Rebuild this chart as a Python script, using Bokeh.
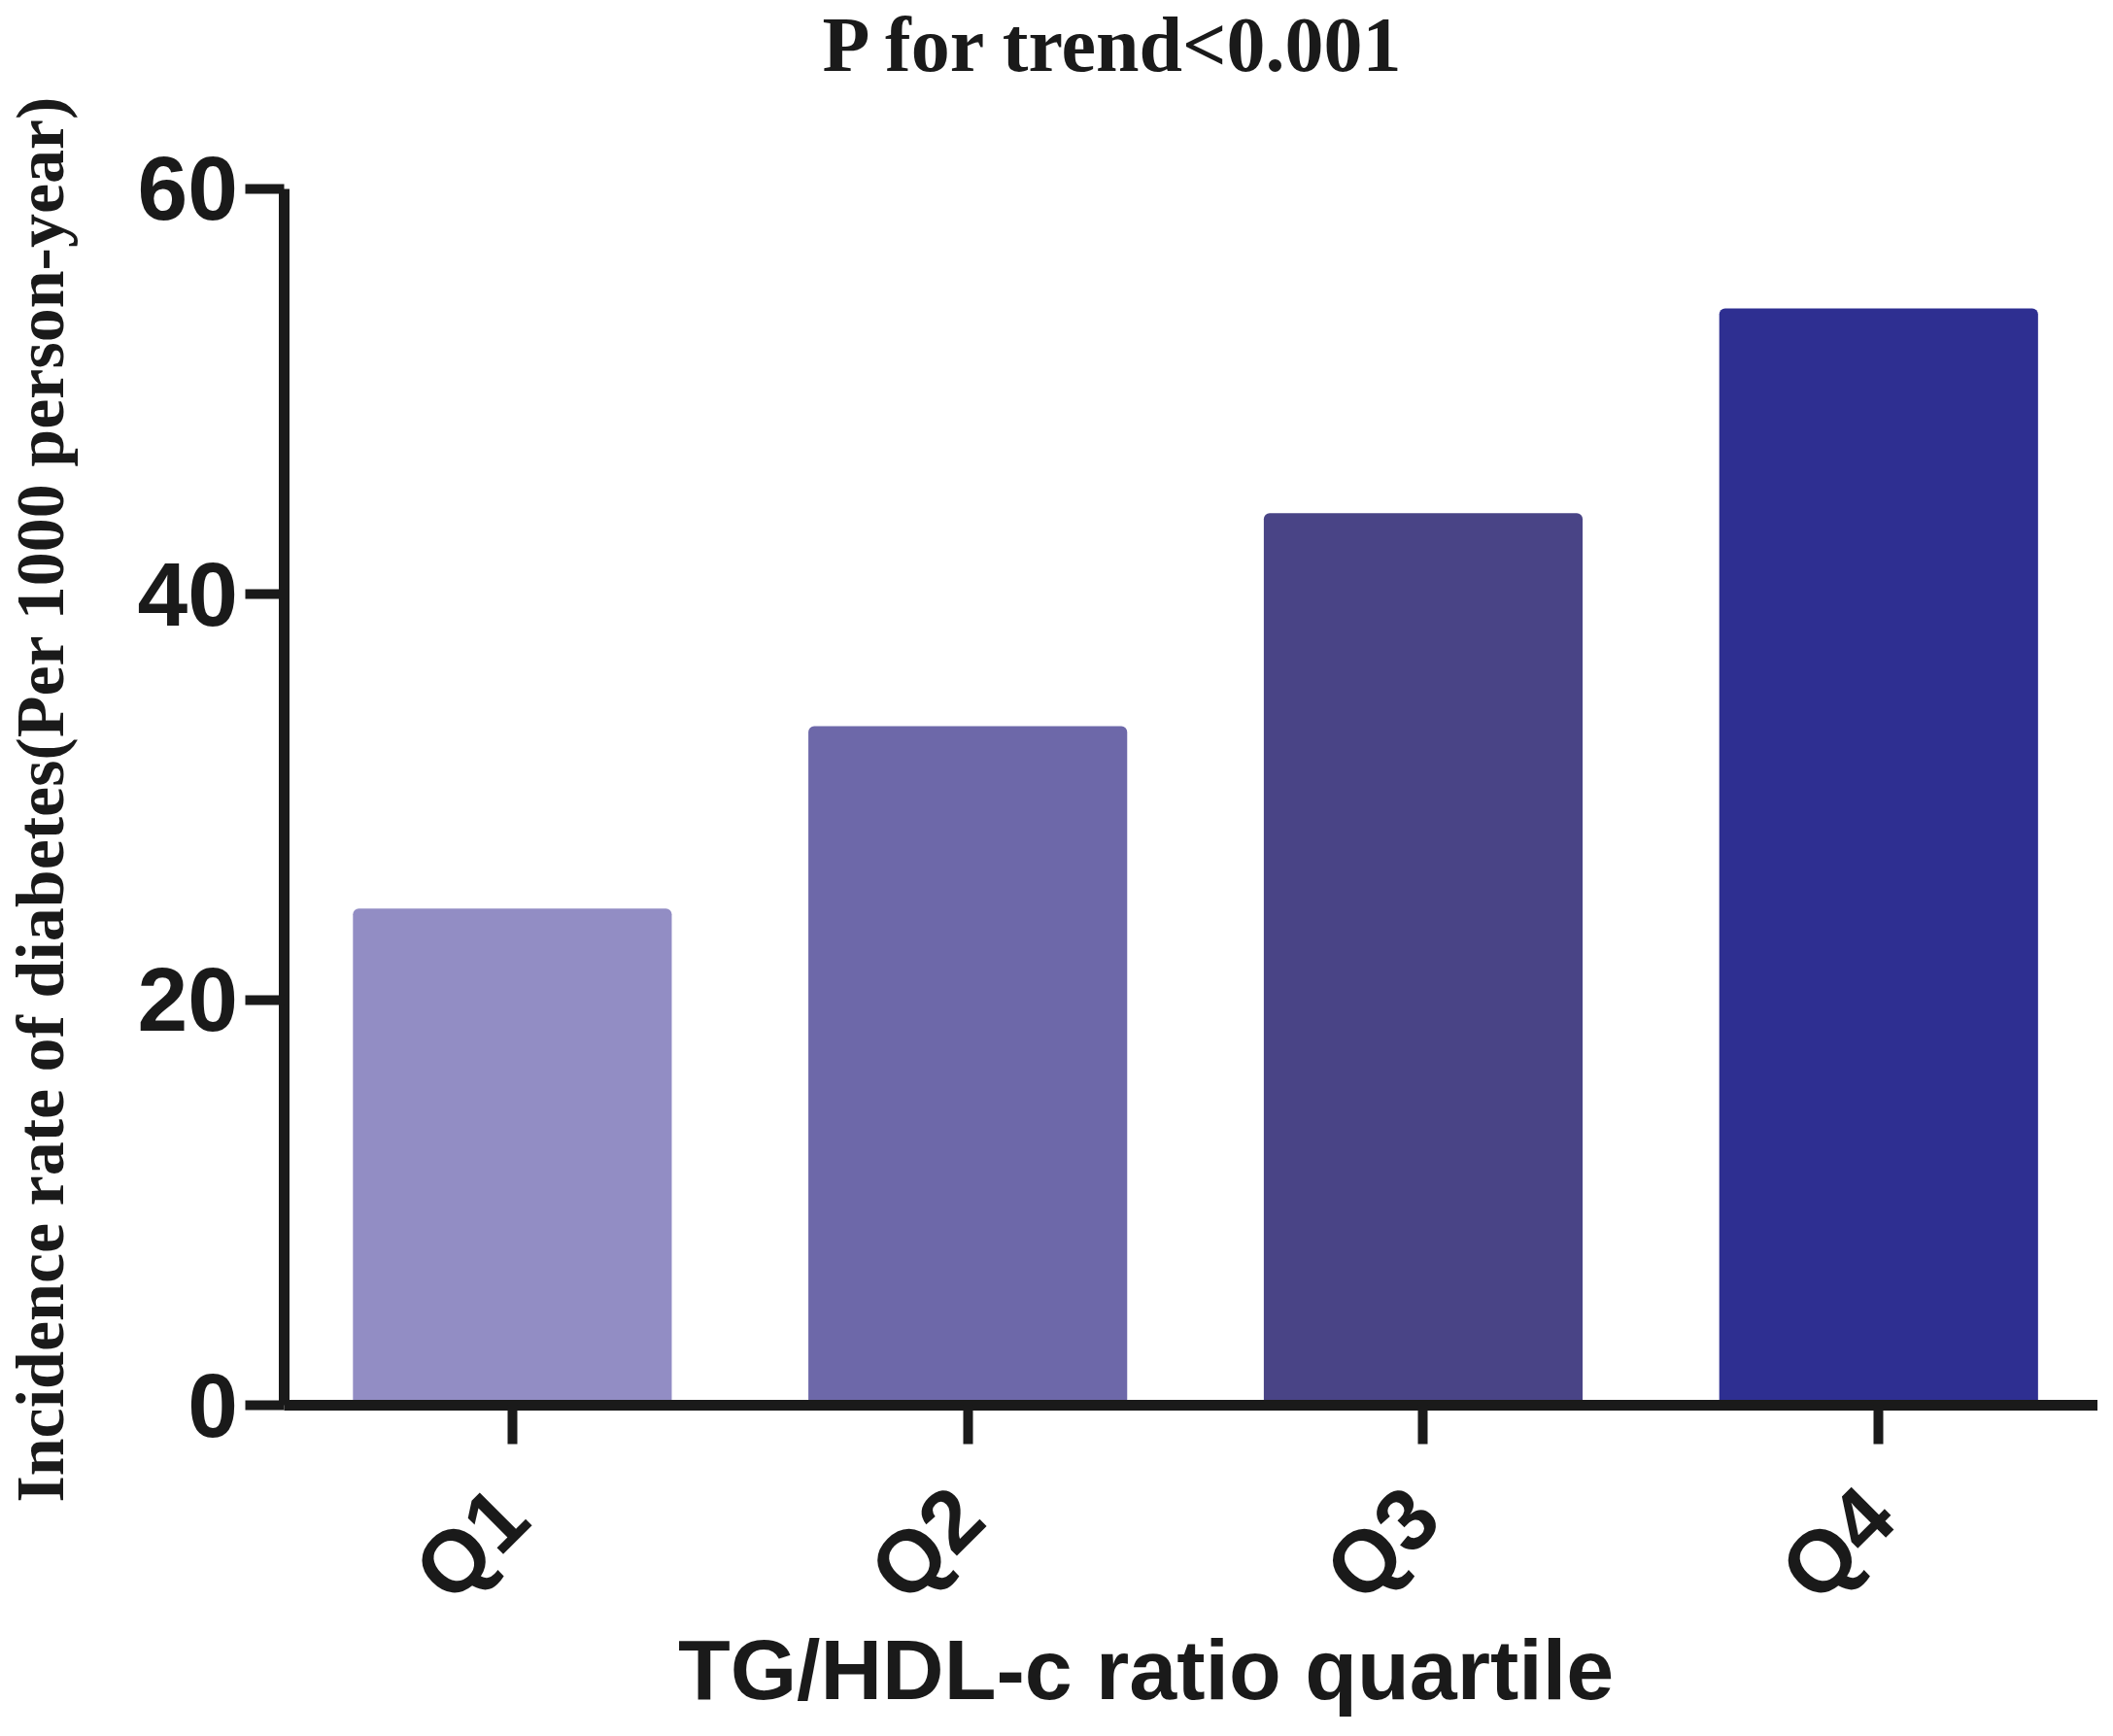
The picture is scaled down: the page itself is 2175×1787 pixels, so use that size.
from math import pi
from bokeh.plotting import figure
from bokeh.models import ColumnDataSource, Range1d, FixedTicker, Label
from bokeh.embed import file_html
from bokeh.resources import INLINE

quartiles = ["Q1", "Q2", "Q3", "Q4"]
incidence = [24.5, 33.5, 44.0, 54.1]
bar_colors = ["#928DC4", "#6D68A9", "#494486", "#2E2F91"]
y_ticks = [0, 20, 40, 60]

title_text = "P for trend<0.001"
x_label = "TG/HDL-c ratio quartile"
y_label = "Incidence rate of diabetes(Per 1000 person-year)"

INK = "#1a1a1a"
W, H = 2159, 1771

# positions of the categories on a numeric axis (centre of each slot)
xpos = [i + 0.5 for i in range(len(quartiles))]

src = ColumnDataSource(dict(x=xpos, v=incidence, c=bar_colors))

p = figure(
    width=W, height=H,
    x_range=Range1d(-0.6239, 3.9815),
    y_range=Range1d(-15.575, 69.297),
    output_backend="svg", toolbar_location=None,
    min_border_left=0, min_border_right=0,
    min_border_top=0, min_border_bottom=0,
)
p.title.visible = False
p.outline_line_color = None
p.xgrid.grid_line_color = None
p.ygrid.grid_line_color = None
p.background_fill_color = "white"
p.border_fill_color = "white"

p.vbar(x="x", top="v", width=0.70, bottom=0, source=src,
       fill_color="c", line_color=None, border_radius=6)

for ax in (p.xaxis[0], p.yaxis[0]):
    ax.axis_line_width = 11
    ax.axis_line_color = INK
    ax.major_tick_line_width = 10
    ax.major_tick_line_color = INK
    ax.major_tick_out = 40
    ax.major_tick_in = 0
    ax.minor_tick_line_color = None
    ax.major_label_text_font = "Liberation Sans"
    ax.major_label_text_font_style = "bold"
    ax.major_label_text_color = INK
    ax.fixed_location = 0

p.yaxis.ticker = FixedTicker(ticks=y_ticks)
p.yaxis.bounds = (0, 60)
p.yaxis.major_label_text_font_size = "93px"
p.yaxis.major_label_standoff = 8

p.xaxis.ticker = FixedTicker(ticks=xpos)
p.xaxis.major_label_overrides = {x: q for x, q in zip(xpos, quartiles)}
p.xaxis.bounds = (0, 4)
p.xaxis.major_label_text_font_size = "90px"
p.xaxis.major_label_orientation = pi / 4
p.xaxis.major_label_standoff = 60

p.add_layout(Label(x=1147, y=H - 76 + 31, x_units="screen", y_units="screen",
                   text=title_text, text_align="center", text_baseline="alphabetic",
                   text_font="Liberation Serif", text_font_style="bold",
                   text_font_size="80px", text_color=INK))
p.add_layout(Label(x=1179, y=H - 1752 + 34, x_units="screen", y_units="screen",
                   text=x_label, text_align="center", text_baseline="alphabetic",
                   text_font="Liberation Sans", text_font_style="bold",
                   text_font_size="88px", text_color=INK))
p.add_layout(Label(x=41, y=H - 822, x_units="screen", y_units="screen",
                   text=y_label, angle=pi / 2, text_align="center", text_baseline="middle",
                   text_font="Liberation Serif", text_font_style="bold",
                   text_font_size="70px", text_color=INK))

open("out.html", "w").write(file_html(p, INLINE))
